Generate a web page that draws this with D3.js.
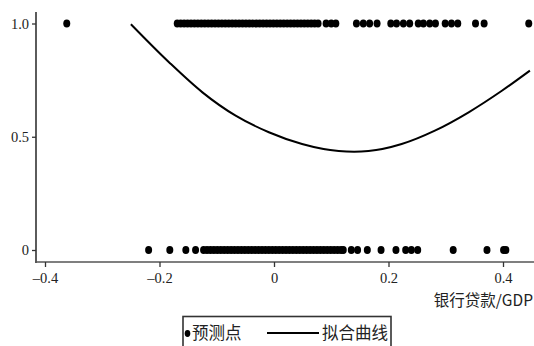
<!DOCTYPE html>
<html>
<head>
<meta charset="utf-8">
<script src="https://cdn.jsdelivr.net/npm/d3@7"></script>
<style>
    * { margin: 0; padding: 0; }
    body { background: #fff; overflow: hidden; }
</style>
</head>
<body>
<svg id="chart" width="534" height="346"></svg>
<script>
    // predicted points at y = 1 and y = 0 (x = bank loans / GDP)
    const onesX = [-0.362,
        -0.169, -0.163, -0.157, -0.151, -0.145, -0.139, -0.133, -0.127, -0.121, -0.115,
        -0.109, -0.103, -0.097, -0.091, -0.085, -0.079, -0.073, -0.067, -0.061, -0.055,
        -0.049, -0.043, -0.037, -0.031, -0.025, -0.019, -0.013, -0.007, -0.001, 0.005,
        0.011, 0.017, 0.023, 0.029, 0.035, 0.041, 0.047, 0.053, 0.059, 0.065, 0.071, 0.077,
        0.091, 0.100, 0.108,
        0.144, 0.156, 0.167, 0.180,
        0.204, 0.214, 0.226, 0.237, 0.252,
        0.261, 0.272, 0.282, 0.299, 0.310, 0.321,
        0.352, 0.367, 0.445]
    const zerosX = [-0.219, -0.182, -0.154, -0.137,
        -0.123, -0.117, -0.111, -0.105, -0.099, -0.093, -0.087, -0.081, -0.075, -0.069,
        -0.063, -0.057, -0.051, -0.045, -0.039, -0.033, -0.027, -0.021, -0.015, -0.009,
        -0.003, 0.003, 0.009, 0.015, 0.021, 0.027, 0.033, 0.039, 0.045, 0.051,
        0.057, 0.063, 0.069, 0.075, 0.081, 0.087, 0.093, 0.099, 0.105, 0.111, 0.117, 0.121,
        0.135, 0.146, 0.163, 0.187, 0.213, 0.230, 0.240, 0.251,
        0.313, 0.372, 0.401, 0.405]

    // fitted curve
    const curveX = [-0.250, -0.183, -0.125, -0.067, -0.009, 0.049, 0.113, 0.140, 0.165, 0.223, 0.281, 0.340, 0.398, 0.447]
    const curveY = [0.997, 0.828, 0.696, 0.593, 0.520, 0.468, 0.437, 0.434, 0.437, 0.468, 0.527, 0.608, 0.703, 0.792]

    const xTicks = [-0.4, -0.2, 0, 0.2, 0.4]
    const xTickLabels = ['–0.4', '–0.2', '0', '0.2', '0.4']
    const yTicks = [0, 0.5, 1]
    const yTickLabels = ['0', '0.5', '1.0']

    const serif = '"Liberation Serif", "Times New Roman", serif'
    const svg = d3.select('#chart')
    const x = d3.scaleLinear().domain([-0.4, 0.4]).range([45, 503])
    const y = d3.scaleLinear().domain([0, 1]).range([250, 23.5])

    // axis lines
    svg.append('line').attr('x1', 36).attr('x2', 36).attr('y1', 12).attr('y2', 263)
        .attr('stroke', '#333').attr('stroke-width', 1.6)
    svg.append('line').attr('x1', 35).attr('x2', 534).attr('y1', 262).attr('y2', 262)
        .attr('stroke', '#555').attr('stroke-width', 1.4)

    const yAxis = svg.append('g').attr('transform', 'translate(36,0)')
        .call(d3.axisLeft(y).tickValues(yTicks).tickSize(4).tickPadding(3)
            .tickFormat((d, i) => yTickLabels[i]))
    yAxis.select('.domain').remove()
    yAxis.selectAll('.tick line').attr('stroke', '#333').attr('stroke-width', 1.3)
    yAxis.selectAll('.tick text').attr('fill', '#222')
        .style('font-family', serif).style('font-size', '14.5px')

    const xAxis = svg.append('g').attr('transform', 'translate(0,262)')
        .call(d3.axisBottom(x).tickValues(xTicks).tickSize(5).tickPadding(6)
            .tickFormat((d, i) => xTickLabels[i]))
    xAxis.select('.domain').remove()
    xAxis.selectAll('.tick line').attr('stroke', '#333').attr('stroke-width', 1.3)
    xAxis.selectAll('.tick text').attr('fill', '#222')
        .style('font-family', serif).style('font-size', '14.5px')

    // points
    svg.append('g').selectAll('ellipse').data(onesX).join('ellipse')
        .attr('cx', d => x(d)).attr('cy', y(1)).attr('rx', 3.5).attr('ry', 4.1).attr('fill', '#000')
    svg.append('g').selectAll('ellipse').data(zerosX).join('ellipse')
        .attr('cx', d => x(d)).attr('cy', y(0)).attr('rx', 3.5).attr('ry', 4.1).attr('fill', '#000')

    // fitted curve
    const line = d3.line().x(d => x(d[0])).y(d => y(d[1])).curve(d3.curveMonotoneX)
    svg.append('path').datum(curveX.map((v, i) => [v, curveY[i]]))
        .attr('d', line).attr('fill', 'none').attr('stroke', '#000').attr('stroke-width', 2)

    // axis title
    svg.append('text').attr('x', 533).attr('y', 306).attr('text-anchor', 'end')
        .attr('font-size', 15.5).attr('fill', '#222')
        .attr('font-family', '"Noto Sans CJK SC", "Liberation Serif", serif')
        .text('银行贷款/GDP')

    // legend
    const lg = svg.append('g')
    lg.append('rect').attr('x', 183).attr('y', 316.5).attr('width', 208).attr('height', 40)
        .attr('fill', 'none').attr('stroke', '#333').attr('stroke-width', 1.6)
    lg.append('ellipse').attr('cx', 187.5).attr('cy', 333.5).attr('rx', 2.8).attr('ry', 3.4).attr('fill', '#000')
    lg.append('text').attr('x', 192).attr('y', 339).attr('font-size', 16.5).attr('fill', '#222')
        .attr('font-family', '"Noto Sans CJK SC", sans-serif').text('预测点')
    lg.append('line').attr('x1', 267).attr('x2', 319).attr('y1', 333).attr('y2', 333)
        .attr('stroke', '#000').attr('stroke-width', 2)
    lg.append('text').attr('x', 322).attr('y', 339).attr('font-size', 16.5).attr('fill', '#222')
        .attr('font-family', '"Noto Sans CJK SC", sans-serif').text('拟合曲线')
</script>
</body>
</html>
